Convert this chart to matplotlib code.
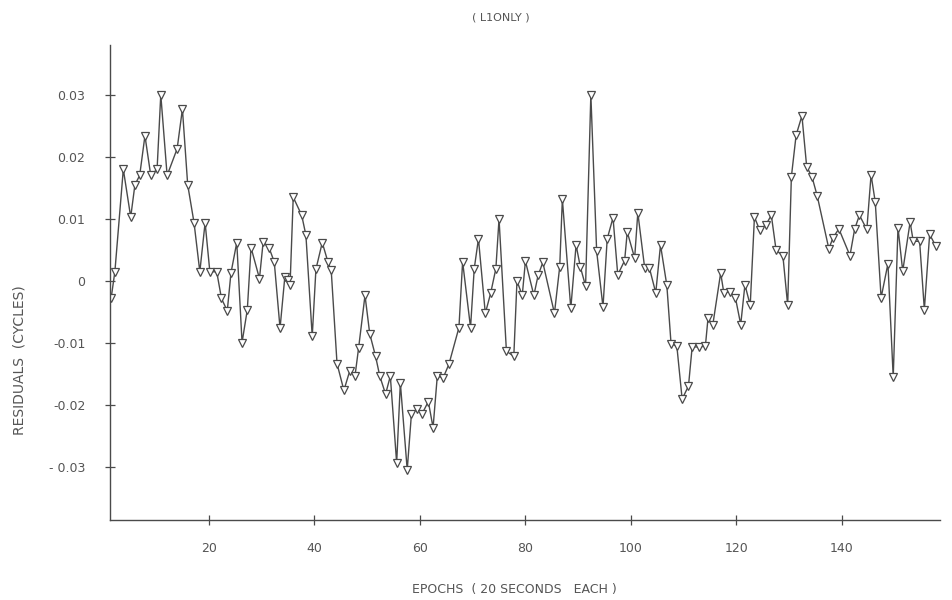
import matplotlib
matplotlib.use("Agg")
from matplotlib import pyplot as plt

# epochs and residuals
epochs = [1.5, 2.2, 3.8, 5.2, 6.0, 6.9, 7.9, 9.0, 10.2, 10.9,
          12.1, 14.0, 15.0, 16.0, 17.2, 18.3, 19.3, 20.2, 21.5, 22.4,
          23.5, 24.2, 25.3, 26.3, 27.3, 28.0, 29.6, 30.3, 31.4, 32.4,
          33.5, 34.4, 35.0, 35.4, 36.0, 37.6, 38.4, 39.6, 40.3, 41.5,
          42.6, 43.2, 44.3, 45.6, 46.7, 47.7, 48.4, 49.6, 50.5, 51.6,
          52.4, 53.5, 54.4, 55.6, 56.3, 57.6, 58.4, 59.5, 60.4, 61.6,
          62.5, 63.3, 64.4, 65.5, 67.4, 68.1, 69.6, 70.3, 71.1, 72.4,
          73.4, 74.4, 75.0, 76.4, 77.8, 78.4, 79.4, 80.0, 81.6, 82.4,
          83.3, 85.5, 86.5, 87.0, 88.6, 89.6, 90.4, 91.4, 92.4, 93.5,
          94.7, 95.5, 96.6, 97.5, 98.8, 99.3, 100.7, 101.3, 102.6, 103.5,
          104.7, 105.6, 106.8, 107.6, 108.7, 109.7, 110.9, 111.6, 112.8, 114.1,
          114.6, 115.5, 117.0, 117.6, 118.8, 119.8, 120.8, 121.6, 122.6, 123.4,
          124.4, 125.6, 126.6, 127.5, 128.8, 129.7, 130.4, 131.3, 132.4, 133.3,
          134.3, 135.3, 137.5, 138.3, 139.4, 141.5, 142.4, 143.3, 144.7, 145.5,
          146.3, 147.4, 148.7, 149.7, 150.6, 151.5, 152.9, 153.5, 154.7, 155.6,
          156.6, 157.8]
residuals = [-0.0027, 0.0015, 0.0180, 0.0103, 0.0155, 0.0170, 0.0234, 0.0170, 0.0180, 0.0300,
             0.0170, 0.0213, 0.0277, 0.0155, 0.0094, 0.0015, 0.0094, 0.0015, 0.0015, -0.0028,
             -0.0048, 0.0013, 0.0062, -0.0099, -0.0046, 0.0054, 0.0004, 0.0063, 0.0054, 0.0031,
             -0.0076, 0.0006, 0.0002, -0.0006, 0.0135, 0.0106, 0.0074, -0.0089, 0.0019, 0.0062,
             0.0030, 0.0017, -0.0133, -0.0176, -0.0145, -0.0153, -0.0107, -0.0023, -0.0085, -0.0121,
             -0.0153, -0.0182, -0.0153, -0.0293, -0.0164, -0.0304, -0.0214, -0.0206, -0.0214, -0.0194,
             -0.0236, -0.0153, -0.0156, -0.0134, -0.0075, 0.0031, -0.0075, 0.0020, 0.0068, -0.0052,
             -0.0020, 0.0020, 0.0100, -0.0113, -0.0121, 0.0000, -0.0023, 0.0032, -0.0023, 0.0009,
             0.0030, -0.0052, 0.0023, 0.0132, -0.0044, 0.0058, 0.0023, -0.0008, 0.0300, 0.0048,
             -0.0042, 0.0068, 0.0102, 0.0010, 0.0033, 0.0079, 0.0037, 0.0110, 0.0021, 0.0021,
             -0.0019, 0.0058, -0.0007, -0.0101, -0.0105, -0.0190, -0.0169, -0.0106, -0.0106, -0.0105,
             -0.0060, -0.0071, 0.0013, -0.0019, -0.0017, -0.0027, -0.0070, -0.0006, -0.0039, 0.0103,
             0.0082, 0.0091, 0.0106, 0.0050, 0.0040, -0.0039, 0.0168, 0.0235, 0.0266, 0.0184,
             0.0168, 0.0137, 0.0052, 0.0070, 0.0084, 0.0041, 0.0084, 0.0106, 0.0083, 0.0171,
             0.0127, -0.0027, 0.0028, -0.0155, 0.0086, 0.0016, 0.0095, 0.0064, 0.0064, -0.0046,
             0.0075, 0.0056]

x_ticks = [20, 40, 60, 80, 100, 120, 140]
y_ticks = [0.03, 0.02, 0.01, 0, -0.01, -0.02, -0.03]
y_tick_labels = ["0.03", "0.02", "0.01", "0", "-0.01", "-0.02", "- 0.03"]

ink = "#4a4a4a"

fig = plt.figure(figsize=(9.53, 6), dpi=100)
ax = fig.add_axes([0.115, 0.133, 0.871, 0.792])

ax.plot(epochs, residuals, color=ink, lw=1.0, marker="v", markersize=6,
        markerfacecolor="white", markeredgecolor=ink, markeredgewidth=0.9)

ax.set_xlim(1.2, 158.5)
ax.set_ylim(-0.0385, 0.038)
ax.set_xticks(x_ticks)
ax.set_xticklabels([str(t) for t in x_ticks])
ax.set_yticks(y_ticks)
ax.set_yticklabels(y_tick_labels)

for side in ["top", "right"]:
    ax.spines[side].set_visible(False)
for side in ["left", "bottom"]:
    ax.spines[side].set_color(ink)
    ax.spines[side].set_linewidth(1.0)

ax.tick_params(direction="inout", length=7, width=0.9, colors=ink,
               labelsize=9, labelcolor="#555555")
ax.tick_params(axis="x", pad=12)
ax.tick_params(axis="y", pad=14)

fig.text(0.525, 0.97, "( L1ONLY )", ha="center", va="center",
         fontsize=8, color="#555555")
fig.text(0.54, 0.017, "EPOCHS  ( 20 SECONDS   EACH )", ha="center", va="center",
         fontsize=9, color="#555555")
fig.text(0.02, 0.40, "RESIDUALS  (CYCLES)", ha="center", va="center",
         rotation=90, fontsize=10, color="#555555")

plt.savefig("out.png", dpi=100)
